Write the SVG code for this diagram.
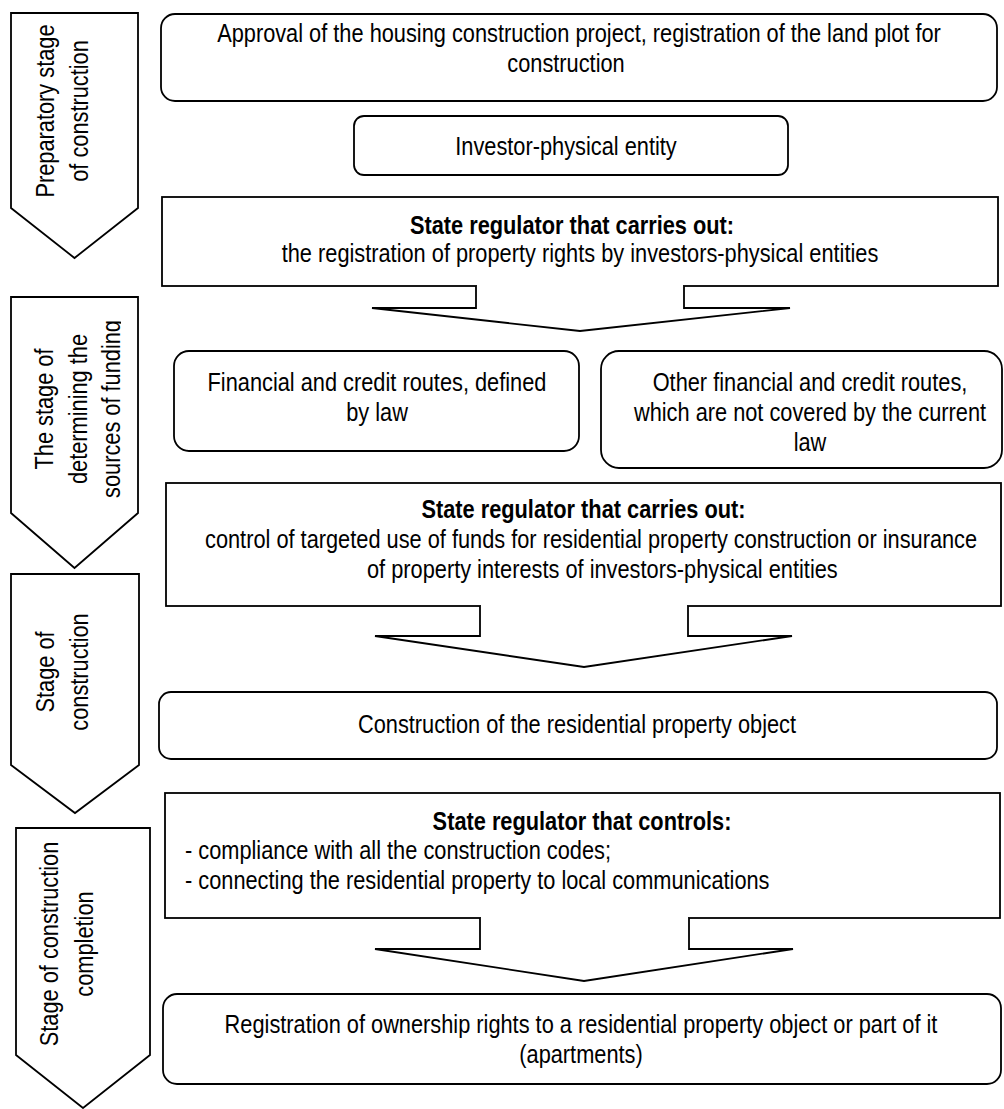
<svg xmlns="http://www.w3.org/2000/svg" width="1004" height="1109" viewBox="0 0 1004 1109">
<style>
.shape{fill:#fff;stroke:#000;stroke-width:1.8}
.t{font-family:"Liberation Sans",Arial,sans-serif;font-size:26px;fill:#000}
.c{text-anchor:middle}
.b{font-weight:bold}
.cover{fill:#fff;stroke:none}
</style>
<defs>
<clipPath id="clipP2"><rect x="0" y="290" width="121" height="230"/></clipPath>
</defs>
<rect width="1004" height="1109" fill="#fff"/>

<g id="stage1">
<path class="shape" d="M11,13 H138 V208 L74.5,258 L11,208 Z"/>
<g transform="translate(0,111) rotate(-90) scale(0.838,1)">
<text class="t c" x="0" y="54">Preparatory stage</text>
<text class="t c" x="0" y="88.5">of construction</text>
</g>
</g>

<g id="stage2">
<path class="shape" d="M11,297 H138 V513 L74.5,568 L11,513 Z"/>
<g clip-path="url(#clipP2)">
<g transform="translate(0,409) rotate(-90) scale(0.838,1)">
<text class="t c" x="0" y="53.5">The stage of</text>
<text class="t c" x="0" y="87">determining the</text>
<text class="t c" x="0" y="120">sources of funding</text>
</g>
</g>
</g>

<g id="stage3">
<path class="shape" d="M11,574 H139 V765 L75,813 L11,765 Z"/>
<g transform="translate(0,672) rotate(-90) scale(0.838,1)">
<text class="t c" x="0" y="54">Stage of</text>
<text class="t c" x="0" y="88">construction</text>
</g>
</g>

<g id="stage4">
<path class="shape" d="M16,828 H150 V1055 L83,1108 L16,1055 Z"/>
<g transform="translate(0,944) rotate(-90) scale(0.838,1)">
<text class="t c" x="0" y="58.5">Stage of construction</text>
<text class="t c" x="0" y="93">completion</text>
</g>
</g>

<g id="approval">
<rect class="shape" x="161" y="14" width="836" height="87" rx="14"/>
<text class="t c" transform="translate(579,0) scale(0.838,1)" x="0" y="42">Approval of the housing construction project, registration of the land plot for</text>
<text class="t c" transform="translate(566,0) scale(0.838,1)" x="0" y="72">construction</text>
</g>

<g id="investor">
<rect class="shape" x="354" y="116" width="434" height="59" rx="10"/>
<text class="t c" transform="translate(566,0) scale(0.838,1)" x="0" y="155">Investor-physical entity</text>
</g>

<g id="regulator1">
<rect class="shape" x="162" y="197" width="836" height="89"/>
<text class="t c b" transform="translate(572,0) scale(0.838,1)" x="0" y="234">State regulator that carries out:</text>
<text class="t c" transform="translate(580,0) scale(0.838,1)" x="0" y="262">the registration of property rights by investors-physical entities</text>
</g>

<g id="financial-law">
<rect class="shape" x="174" y="351" width="405" height="100" rx="15"/>
<text class="t c" transform="translate(377,0) scale(0.838,1)" x="0" y="391">Financial and credit routes, defined</text>
<text class="t c" transform="translate(377,0) scale(0.838,1)" x="0" y="421">by law</text>
</g>

<g id="financial-other">
<rect class="shape" x="601" y="351" width="401" height="117" rx="18"/>
<text class="t c" transform="translate(810,0) scale(0.838,1)" x="0" y="391">Other financial and credit routes,</text>
<text class="t c" transform="translate(810,0) scale(0.838,1)" x="0" y="421">which are not covered by the current</text>
<text class="t c" transform="translate(810,0) scale(0.838,1)" x="0" y="451">law</text>
</g>

<g id="regulator2">
<rect class="shape" x="166" y="483" width="835" height="123"/>
<text class="t c b" transform="translate(583.5,0) scale(0.838,1)" x="0" y="518">State regulator that carries out:</text>
<text class="t" transform="translate(205,0) scale(0.838,1)" x="0" y="548">control of targeted use of funds for residential property construction or insurance</text>
<text class="t" transform="translate(367,0) scale(0.838,1)" x="0" y="578">of property interests of investors-physical entities</text>
</g>

<g id="construction">
<rect class="shape" x="159" y="692" width="838" height="67" rx="12"/>
<text class="t c" transform="translate(577,0) scale(0.838,1)" x="0" y="733">Construction of the residential property object</text>
</g>

<g id="regulator3">
<rect class="shape" x="165" y="793" width="835" height="125"/>
<text class="t c b" transform="translate(582,0) scale(0.838,1)" x="0" y="830">State regulator that controls:</text>
<text class="t" transform="translate(185,0) scale(0.838,1)" x="0" y="859.5">- compliance with all the construction codes;</text>
<text class="t" transform="translate(185,0) scale(0.838,1)" x="0" y="889.5">- connecting the residential property to local communications</text>
</g>

<g id="registration">
<rect class="shape" x="163" y="994" width="838" height="90" rx="14"/>
<text class="t c" transform="translate(581,0) scale(0.838,1)" x="0" y="1033">Registration of ownership rights to a residential property object or part of it</text>
<text class="t c" transform="translate(581,0) scale(0.838,1)" x="0" y="1063">(apartments)</text>
</g>

<g id="connectors">
<rect class="cover" x="477" y="283" width="206" height="6"/>
<path class="shape" d="M476,286 V308 H372 L580,331 L790,308 H684 V286"/>
<rect class="cover" x="481" y="603" width="206" height="6"/>
<path class="shape" d="M480,606 V636 H375 L584,667 L792,636 H688 V606"/>
<rect class="cover" x="481" y="915" width="207" height="6"/>
<path class="shape" d="M480,918 V949 H375 L584,981 L793,949 H689 V918"/>
</g>
</svg>
